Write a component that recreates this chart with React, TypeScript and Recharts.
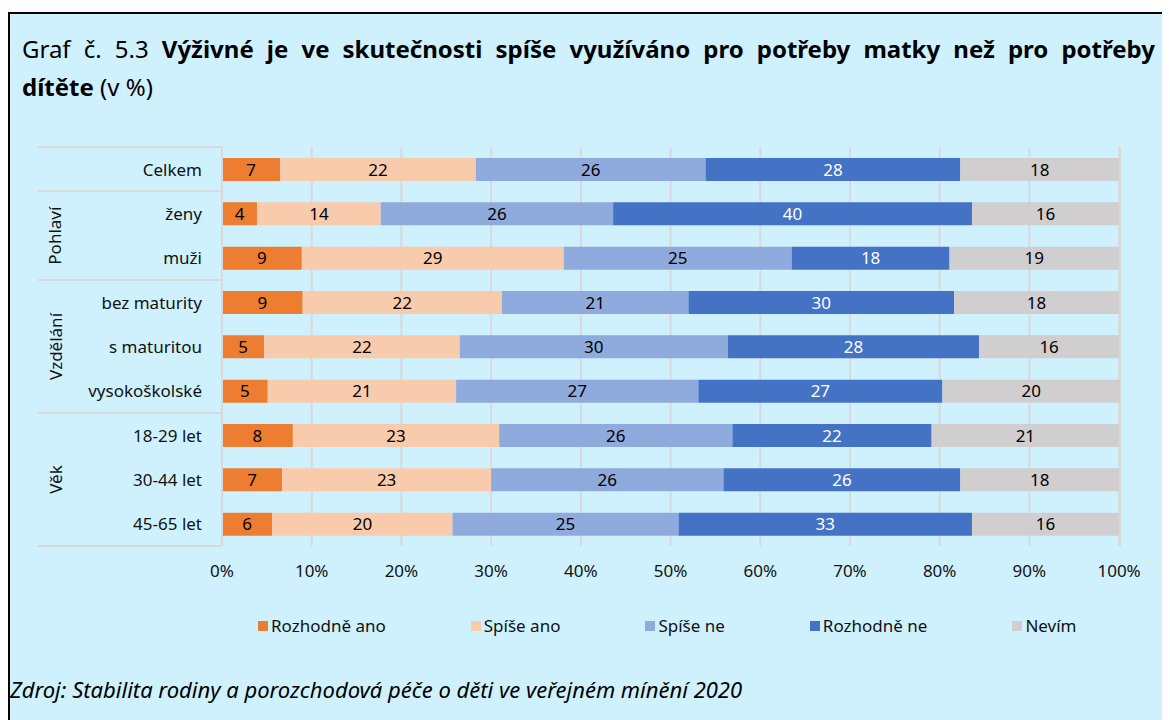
import React from "react";
import {
  BarChart,
  Bar,
  XAxis,
  YAxis,
  CartesianGrid,
  Legend,
  LabelList,
} from "recharts";

const categories = [
  "Celkem",
  "ženy",
  "muži",
  "bez maturity",
  "s maturitou",
  "vysokoškolské",
  "18-29 let",
  "30-44 let",
  "45-65 let",
];
const rozhodneAno = [6.5, 3.9, 8.9, 9.0, 4.7, 5.1, 7.9, 6.7, 5.6];
const spiseAno = [21.8, 13.8, 29.2, 22.2, 21.8, 21.0, 23.0, 23.3, 20.1];
const spiseNe = [25.6, 25.9, 25.4, 20.8, 29.9, 27.0, 26.0, 25.9, 25.2];
const rozhodneNe = [28.4, 40.0, 17.6, 29.6, 28.0, 27.2, 22.2, 26.4, 32.7];
const nevim = [17.7, 16.4, 18.9, 18.4, 15.6, 19.8, 20.9, 17.7, 16.4];

const groupLabels = ["Pohlaví", "Vzdělání", "Věk"];
const groupStarts = [1, 3, 6];
const groupSizes = [2, 3, 3];

const xTicks = [0, 10, 20, 30, 40, 50, 60, 70, 80, 90, 100];

const seriesNames = ["Rozhodně ano", "Spíše ano", "Spíše ne", "Rozhodně ne", "Nevím"];
const seriesColors = ["#ED7D31", "#F8CBAD", "#8FAADC", "#4472C4", "#D0CECE"];
const labelColors = ["#000", "#000", "#000", "#fff", "#000"];

const data = categories.map((name, i) => ({
  name,
  s0: rozhodneAno[i],
  s1: spiseAno[i],
  s2: spiseNe[i],
  s3: rozhodneNe[i],
  s4: nevim[i],
}));

const FONT = "'Noto Sans', 'Open Sans', sans-serif";
const BG = "#CFF1FE";
const GRID = "#D9D9D9";

const CHART_W = 1130;
const CHART_H = 546;
const MARGIN = { top: 47, right: 20, left: 28, bottom: 0 };
const Y_W = 184;
const X_H = 40;
const PLOT_H = 399;
const BAND = PLOT_H / categories.length;

const CategoryTick = (props: any) => {
  const { y, payload } = props;
  const index = payload.index;
  const left = MARGIN.left;
  const right = MARGIN.left + Y_W;
  const items: any[] = [];
  if (index === 0 || groupStarts.includes(index)) {
    items.push(
      <line key="top" x1={left} x2={right} y1={y - BAND / 2} y2={y - BAND / 2} stroke={GRID} strokeWidth={2} />
    );
  }
  if (index === categories.length - 1) {
    items.push(
      <line key="bot" x1={left} x2={right} y1={y + BAND / 2} y2={y + BAND / 2} stroke={GRID} strokeWidth={2} />
    );
  }
  const g = groupStarts.indexOf(index);
  if (g >= 0) {
    const cy = y - BAND / 2 + (groupSizes[g] * BAND) / 2;
    items.push(
      <text
        key="grp"
        x={left + 17}
        y={cy}
        transform={`rotate(-90 ${left + 17} ${cy})`}
        textAnchor="middle"
        dominantBaseline="central"
        fontSize={17}
        fontFamily={FONT}
        fill="#111"
      >
        {groupLabels[g]}
      </text>
    );
  }
  return (
    <g>
      {items}
      <text
        x={right - 20}
        y={y}
        textAnchor="end"
        dominantBaseline="central"
        fontSize={17}
        fontFamily={FONT}
        fill="#111"
      >
        {payload.value}
      </text>
    </g>
  );
};

// legend drawn in series order (recharts sorts its payload by name)
const renderLegend = () => (
  <div
    style={{
      display: "flex",
      paddingTop: 19,
      paddingLeft: 220,
      height: 41,
      fontFamily: FONT,
      fontSize: 17,
      color: "#111",
      lineHeight: "20px",
      whiteSpace: "nowrap",
    }}
  >
    {seriesNames.map((name, i) => (
      <div
        key={`leg-${i}`}
        style={{
          display: "flex",
          alignItems: "center",
          marginRight: 85,
          flexShrink: 0,
        }}
      >
        <span
          style={{
            display: "inline-block",
            width: 10,
            height: 10,
            background: seriesColors[i],
            marginRight: 3,
          }}
        />
        <span>{name}</span>
      </div>
    ))}
  </div>
);

export default function App() {
  return (
    <div style={{ paddingTop: 4 }}>
      <div
        style={{
          position: "relative",
          width: 1170,
          height: 720,
          boxSizing: "border-box",
          borderTop: "2px solid #000",
          borderLeft: "2px solid #000",
          background: BG,
          fontFamily: FONT,
        }}
      >
        <div
          style={{
            position: "absolute",
            left: 12,
            top: 16,
            width: 1133,
            fontSize: 24,
            lineHeight: "38px",
            color: "#000",
          }}
        >
          <div style={{ textAlign: "justify", textAlignLast: "justify" }}>
            Graf č. 5.3{" "}
            <b>
              Výživné je ve skutečnosti spíše využíváno pro potřeby matky než
              pro potřeby
            </b>
          </div>
          <div>
            <b>dítěte</b> (v %)
          </div>
        </div>

        <div style={{ position: "absolute", left: 0, top: 86 }}>
          <BarChart
            width={CHART_W}
            height={CHART_H}
            data={data}
            layout="vertical"
            margin={MARGIN}
            barSize={23}
          >
            <CartesianGrid horizontal={false} stroke={GRID} strokeWidth={2} />
            <XAxis
              type="number"
              domain={[0, 100]}
              ticks={xTicks}
              tickFormatter={(v: number) => `${v}%`}
              axisLine={false}
              tickLine={false}
              height={X_H}
              tickMargin={13}
              tick={{ fontSize: 17, fontFamily: FONT, fill: "#111" }}
              interval={0}
            />
            <YAxis
              type="category"
              dataKey="name"
              width={Y_W}
              axisLine={{ stroke: GRID, strokeWidth: 2 }}
              tickLine={false}
              tick={<CategoryTick />}
              interval={0}
            />
            <Legend verticalAlign="bottom" content={renderLegend} />
            {seriesNames.map((name, i) => (
              <Bar
                key={name}
                dataKey={`s${i}`}
                name={name}
                stackId="a"
                fill={seriesColors[i]}
                isAnimationActive={false}
              >
                <LabelList
                  dataKey={`s${i}`}
                  position="center"
                  formatter={(v: any) => Math.round(Number(v))}
                  fill={labelColors[i]}
                  fontSize={17}
                  fontFamily={FONT}
                />
              </Bar>
            ))}
          </BarChart>
        </div>

        <div
          style={{
            position: "absolute",
            left: 0,
            top: 662,
            fontSize: 22,
            lineHeight: "26px",
            fontStyle: "italic",
            color: "#000",
          }}
        >
          Zdroj: Stabilita rodiny a porozchodová péče o děti ve veřejném mínění
          2020
        </div>
      </div>
    </div>
  );
}
